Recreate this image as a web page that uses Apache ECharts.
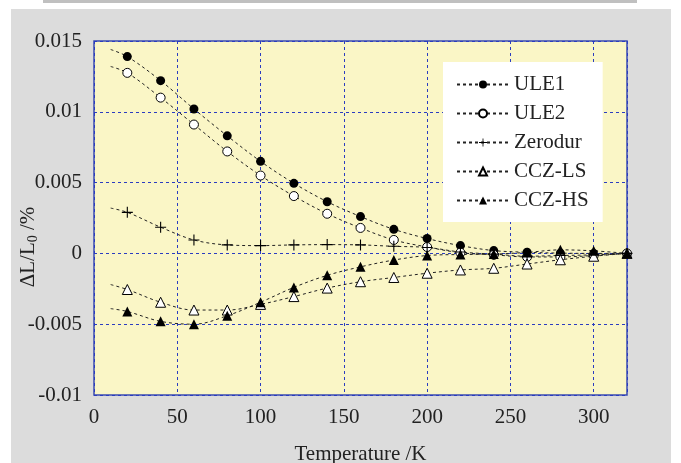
<!DOCTYPE html>
<html>
<head>
<meta charset="utf-8">
<style>html,body{margin:0;padding:0;background:#fff;}#c{width:681px;height:463px;}</style>
<script src="https://cdn.jsdelivr.net/npm/echarts@6/dist/echarts.min.js"></script>
</head>
<body>
<div id="c"></div>
<script>
var temps = [20,40,60,80,100,120,140,160,180,200,220,240,260,280,300,320];
var ule1 = [0.0139,0.0122,0.0102,0.0083,0.0065,0.00495,0.00365,0.0026,0.0017,0.00105,0.00055,0.0002,0.00008,0.00002,0.0,0.0];
var ule2 = [0.01275,0.0110,0.0091,0.0072,0.0055,0.00405,0.0028,0.0018,0.00095,0.00045,0.00005,-0.0001,-0.00025,-0.00025,-0.00015,0.0];
var zerodur = [0.0029,0.00185,0.00095,0.0006,0.00055,0.0006,0.00062,0.0006,0.0005,0.00042,0.0001,-0.00005,-0.0002,-0.00015,-0.0001,0.0];
var cczLS = [-0.00255,-0.00345,-0.0040,-0.0040,-0.0036,-0.00305,-0.00245,-0.0020,-0.0017,-0.0014,-0.00117,-0.00105,-0.00075,-0.00045,-0.0002,0.0];
var cczHS = [-0.0041,-0.0048,-0.0050,-0.0044,-0.00345,-0.0024,-0.00155,-0.00095,-0.00047,-0.00015,-0.00008,-0.00005,0.00007,0.00025,0.00018,0.0];
// start of each dashed trend line (at T = 10 K)
var lineStartT = 10;
var lineStart = {ULE1:0.0144, ULE2:0.0132, Zerodur:0.0032, 'CCZ-LS':-0.0022, 'CCZ-HS':-0.0039};
var xTicks = [0,50,100,150,200,250,300];
var yTicks = [-0.01,-0.005,0,0.005,0.01,0.015];

var FONT = '"Liberation Serif","Times New Roman",serif';
var plusPath = 'path://M4.5,0h1v4.5h4.5v1h-4.5v4.5h-1v-4.5h-4.5v-1h4.5z';

function mk(name, vals, symbol, size, fill) {
  var data = [{value:[lineStartT, lineStart[name]], symbol:'none'}];
  for (var i = 0; i < temps.length; i++) data.push([temps[i], vals[i]]);
  return {
    name: name, type: 'line', data: data, smooth: 0.35,
    symbol: symbol, symbolSize: size, showAllSymbol: true,
    lineStyle: {color:'#222', width:1, type:[3,3]},
    itemStyle: {color: fill, borderColor:'#000', borderWidth: fill === '#fff' ? 1 : 0},
    emphasis: {disabled: true}, animation: false, z: 3
  };
}

var chart = echarts.init(document.getElementById('c'), null, {renderer:'canvas'});
chart.setOption({
  animation: false,
  backgroundColor: '#fff',
  graphic: [
    {type:'rect', shape:{x:43, y:0, width:594, height:3}, style:{fill:'#c0c0c0'}, z:-10},
    {type:'rect', shape:{x:11, y:9, width:660, height:454}, style:{fill:'#dcdcdc'}, z:-10}
  ],
  grid: {left:94, right:54, top:41, bottom:68, show:true, outerBoundsMode:'none', containLabel:false,
         backgroundColor:'#faf6c6', borderColor:'#3a4bb0', borderWidth:1.5},
  legend: {
    orient:'vertical', left:443, top:62, width:158,
    backgroundColor:'#fff', padding:[12,14,11,13],
    itemWidth:52, itemHeight:10, itemGap:8,
    textStyle:{fontFamily:FONT, fontSize:21, color:'#222'},
    data:['ULE1','ULE2','Zerodur','CCZ-LS','CCZ-HS'],
    selectedMode:false
  },
  xAxis: {
    type:'value', min:0, max:320, interval:50,
    name:'Temperature /K', nameLocation:'middle', nameGap:49,
    nameTextStyle:{fontFamily:FONT, fontSize:21, color:'#222'},
    axisLine:{show:false}, axisTick:{show:false},
    axisLabel:{fontFamily:FONT, fontSize:21, color:'#222', margin:12,
      formatter:function(v){ return xTicks.indexOf(v) >= 0 ? String(v) : ''; }},
    splitLine:{show:true, lineStyle:{color:'#2a3cc0', width:1, type:[3,3]}}
  },
  yAxis: {
    type:'value', min:-0.01, max:0.015, interval:0.005,
    name:'{a|ΔL/L}{s|0}{a| /%}', nameLocation:'middle', nameGap:54, nameMoveOverlap:false,
    nameTextStyle:{fontFamily:FONT, fontSize:21, color:'#222', padding:[0,58,0,0],
      rich:{a:{fontFamily:FONT, fontSize:21, color:'#222'}, s:{fontFamily:FONT, fontSize:14, color:'#222', padding:[10,0,0,0]}}},
    axisLine:{show:false}, axisTick:{show:false},
    axisLabel:{fontFamily:FONT, fontSize:21, color:'#222', margin:12,
      formatter:function(v){ var r = Math.round(v*1000)/1000; for (var i=0;i<yTicks.length;i++){ if (Math.abs(yTicks[i]-r)<1e-9) return String(yTicks[i]); } return ''; }},
    splitLine:{show:true, lineStyle:{color:'#2a3cc0', width:1, type:[3,3]}}
  },
  series: [
    mk('ULE1', ule1, 'circle', 9, '#000'),
    mk('ULE2', ule2, 'circle', 9, '#fff'),
    mk('Zerodur', zerodur, plusPath, 11, '#000'),
    mk('CCZ-LS', cczLS, 'triangle', 10, '#fff'),
    mk('CCZ-HS', cczHS, 'triangle', 10, '#000')
  ]
});
</script>
</body>
</html>
